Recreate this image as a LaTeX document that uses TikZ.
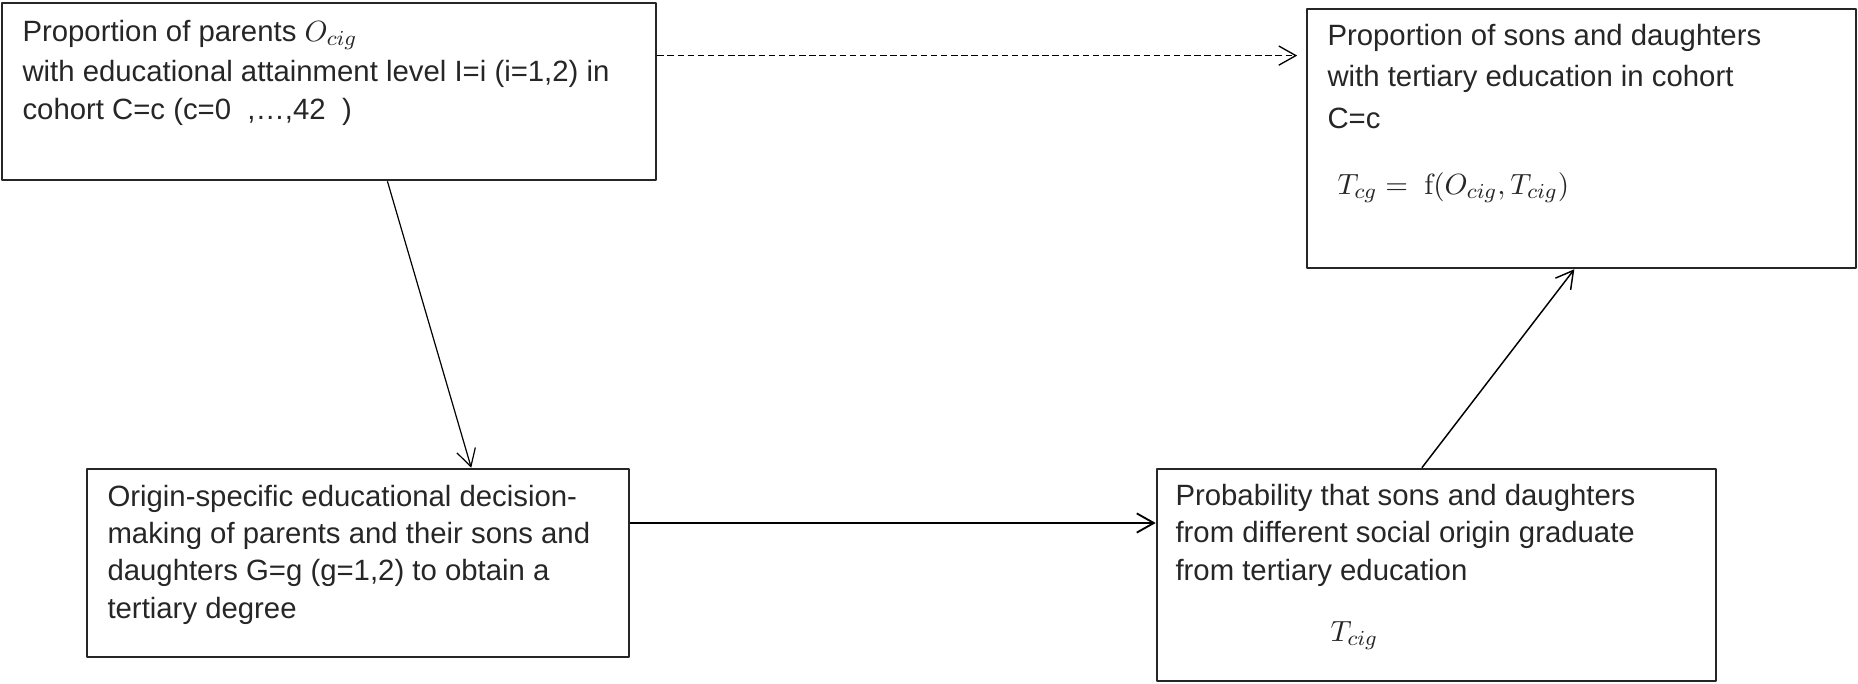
\documentclass[tikz,border=0pt]{standalone}
\usepackage[no-math]{fontspec}
\setmainfont{Liberation Sans}
\usetikzlibrary{calc,arrows.meta}
\begin{document}
\begin{tikzpicture}[x=0.375pt, y=-0.375pt, font=\fontsize{11}{14}\selectfont, line join=round,
		>={Straight Barb[length=6.4pt,width=7.2pt]},
		box/.style={draw=black!85, line width=0.95pt, rectangle, inner sep=0pt},
		txt/.style={text=black!85, inner sep=0pt, align=left, anchor=base west},
		link/.style={->, line width=0.55pt}]
		\def\pxu{0.375pt} % 1 px
		\useasboundingbox (0,0) rectangle (1858,683);
		%\draw[gray!30] (0,0) grid[step=100] (1858,683);
		% Boxes
		\node[box, minimum width=654*\pxu, minimum height=177*\pxu] (parents) at (329,91.5) {};
		\node[box, minimum width=549*\pxu, minimum height=259*\pxu] (sons) at (1581.5,138.5) {};
		\node[box, minimum width=542*\pxu, minimum height=188*\pxu] (decision) at (358,563) {};
		\node[box, minimum width=559*\pxu, minimum height=212*\pxu] (prob) at (1436.5,575) {};
		% Texts (placed at the baseline of the last line)
		\node[txt] (parentstxt) at (22,119) {Proportion of parents $O_{cig}$\\[1.2pt]
			with educational attainment level I=i (i=1,2) in\\
			cohort C=c (c=0\ \ ,…,42\ \ )};
		\node[txt] (sonstxt) at (1327,128) {Proportion of sons and daughters\\[1.4pt]
			with tertiary education in cohort\\[1.4pt]
			C=c};
		\node[txt] (sonsf) at (1337,194) {$T_{cg} = \ \mathrm{f}(O_{cig}, T_{cig})$};
		\node[txt] (decisiontxt) at (107,618) {Origin-specific educational decision-\\
			making of parents and their sons and\\
			daughters G=g (g=1,2) to obtain a\\
			tertiary degree};
		\node[txt] (probtxt) at (1175,580) {Probability that sons and daughters\\
			from different social origin graduate\\
			from tertiary education};
		\node[txt] (probf) at (1330,641) {$T_{cig}$};
		% Connectors
		\draw[link, line width=0.5pt, dash pattern=on 2.4pt off 1.4pt]
			($(parents.north east)!0.30!(parents.south east)$) coordinate (d1)
			-- (d1 -| sons.west) [shorten >=3.2pt];
		\draw[link, line width=0.45pt] ($(parents.south west)!0.589!(parents.south east)$)
			-- ($(decision.north west)!0.708!(decision.north east)$);
		\draw[link, line width=0.7pt] ($(decision.north east)!0.29!(decision.south east)$) coordinate (c1)
			-- (c1 -| prob.west);
		\draw[link] ($(prob.north west)!0.474!(prob.north east)$)
			-- ($(sons.south west)!0.487!(sons.south east)$);
\end{tikzpicture}
\end{document}
